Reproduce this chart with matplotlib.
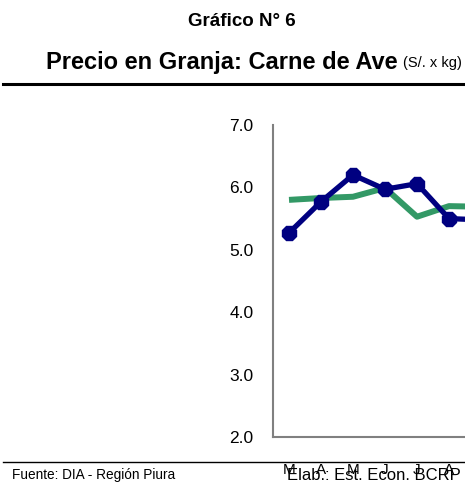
import matplotlib
matplotlib.use("Agg")
import matplotlib.pyplot as plt

# datos (S/. x kg)
meses = ["M", "A", "M", "J", "J", "A", "S"]
precio_actual = [5.27, 5.77, 6.20, 5.97, 6.06, 5.50, 5.48]
precio_anterior = [5.80, 5.83, 5.85, 5.99, 5.53, 5.70, 5.69]
yticks = [2.0, 3.0, 4.0, 5.0, 6.0, 7.0]

plt.rcParams['font.family'] = ['Liberation Sans', 'DejaVu Sans']

fig = plt.figure(figsize=(4.65, 4.93), dpi=100)

# el eje se sale por la derecha, como en el original
ax = fig.add_axes([273/465, 56/493, 384/465, 312/493])
x = list(range(len(meses)))
ax.plot(x, precio_anterior, color="#339966", lw=4.3, solid_capstyle="butt", zorder=2)
ax.plot(x, precio_actual, color="#000080", lw=3.8, marker="8", ms=11.5, zorder=3)

ax.set_xlim(-0.5, 11.5)
ax.set_ylim(2.0, 7.0)
ax.set_yticks(yticks)
ax.set_yticklabels([f"{v:.1f}" for v in yticks], fontsize=12.5)
ax.set_xticks(x)
ax.set_xticklabels(meses, fontsize=11)
ax.tick_params(axis="y", length=0, pad=14)
ax.tick_params(axis="x", length=0, pad=19)
for s in ["top", "right"]:
    ax.spines[s].set_visible(False)
for s in ["left", "bottom"]:
    ax.spines[s].set_color("#808080")
    ax.spines[s].set_linewidth(1.5)

fig.text(242/465, 1 - 21/493, "Gráfico N° 6", ha="center", va="center",
         fontsize=13.5, fontweight="bold")
fig.text(398/465, 1 - 63/493, "Precio en Granja: Carne de Ave", ha="right", va="center",
         fontsize=17, fontweight="bold")
fig.text(403/465, 1 - 63/493, "(S/. x kg)", ha="left", va="center", fontsize=10.5)

fig.add_artist(plt.Line2D([3/465, 1], [1 - 84/493] * 2, color="black", lw=2.2))
fig.add_artist(plt.Line2D([3/465, 1], [1 - 462/493] * 2, color="black", lw=1))

fig.text(12/465, 1 - 475/493, "Fuente: DIA - Región Piura", ha="left", va="center",
         fontsize=9.8)
fig.text(461/465, 1 - 475/493, "Elab.: Est. Econ. BCRP", ha="right", va="center",
         fontsize=12)

fig.savefig("out.png", dpi=100)
